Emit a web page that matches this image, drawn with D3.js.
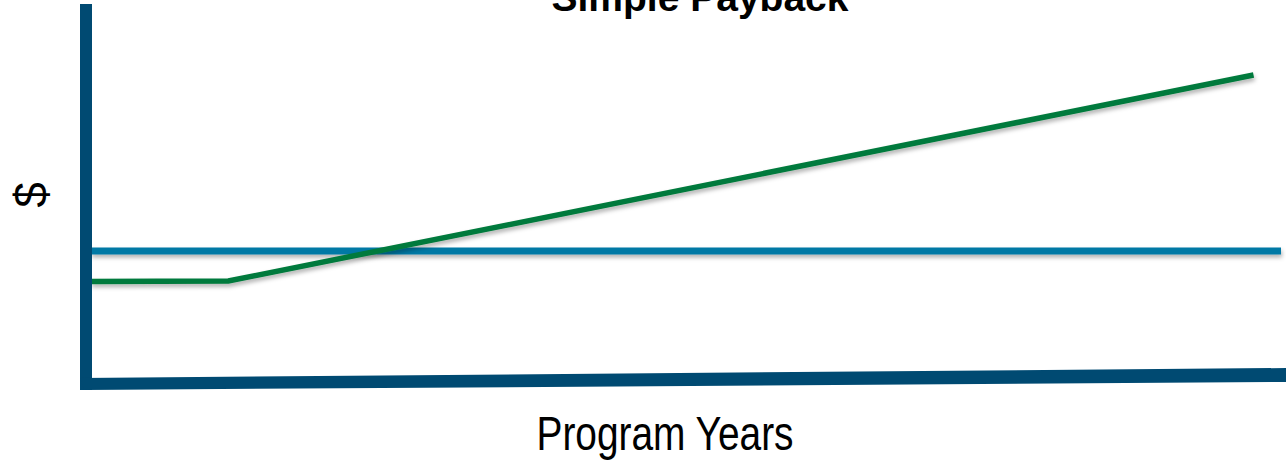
<!DOCTYPE html>
<html>
<head>
<meta charset="utf-8">
<script src="https://d3js.org/d3.v7.min.js"></script>
<style>
  html, body { margin: 0; padding: 0; background: #fff; }
  svg { display: block; font-family: 'Liberation Sans', Arial, sans-serif; }
</style>
</head>
<body>
<svg id="chart" width="1286" height="463"></svg>
<script>
// values (x = program years, y = dollars, arbitrary units)
const costYears = [0, 13];
const costValues = [35, 35];
const savingsYears = [0, 1.5, 12.7];
const savingsValues = [27, 27.1, 81.3];
const titleText = 'Simple Payback';
const xLabel = 'Program Years';
const yLabel = '$';

const svg = d3.select('#chart');
const width = 1286;
const height = 463;

const x = d3.scaleLinear().domain([0, 13]).range([91, 1281]);
const y = d3.scaleLinear().domain([0, 100]).range([384, 4]);

// soft drop shadow under the lines (user space so the flat line keeps a region)
const defs = svg.append('defs');
defs.append('filter')
  .attr('id', 'shadow')
  .attr('filterUnits', 'userSpaceOnUse')
  .attr('x', 0).attr('y', 0)
  .attr('width', width).attr('height', height)
  .append('feDropShadow')
  .attr('dx', 1).attr('dy', 3)
  .attr('stdDeviation', 2)
  .attr('flood-color', '#000')
  .attr('flood-opacity', 0.3);

const line = d3.line()
  .x(d => x(d[0]))
  .y(d => y(d[1]));

// cost line (flat)
svg.append('path')
  .datum(d3.zip(costYears, costValues))
  .attr('d', line)
  .attr('fill', 'none')
  .attr('stroke', '#0079a5')
  .attr('stroke-width', 7)
  .attr('filter', 'url(#shadow)');

// cumulative savings line
svg.append('path')
  .datum(d3.zip(savingsYears, savingsValues))
  .attr('d', line)
  .attr('fill', 'none')
  .attr('stroke', '#007a3c')
  .attr('stroke-width', 5.5)
  .attr('filter', 'url(#shadow)');

// axes: thick bars, x axis a little slanted as in the original slide
const axisColor = '#004a72';
const x0 = x.range()[0];
const y0 = y.range()[0];
svg.append('rect')
  .attr('x', x0 - 11).attr('y', y.range()[1])
  .attr('width', 12).attr('height', y0 - y.range()[1] + 6)
  .attr('fill', axisColor);
svg.append('polygon')
  .attr('points', [
    [x0 - 11, y0 - 6], [width, y0 - 16],
    [width, y0 - 2], [x0 - 7, y0 + 6]
  ].map(p => p.join(',')).join(' '))
  .attr('fill', axisColor);

// texts
svg.append('text')
  .attr('x', 700).attr('y', 11)
  .attr('text-anchor', 'middle')
  .attr('font-weight', 'bold')
  .attr('font-size', 39)
  .attr('fill', '#000')
  .text(titleText);

svg.append('text')
  .attr('transform', 'translate(665,450) scale(0.81,1)')
  .attr('text-anchor', 'middle')
  .attr('font-size', 48)
  .attr('fill', '#000')
  .text(xLabel);

svg.append('text')
  .attr('transform', 'translate(47,195) rotate(-90)')
  .attr('text-anchor', 'middle')
  .attr('font-size', 46)
  .attr('fill', '#000')
  .text(yLabel);
</script>
</body>
</html>
